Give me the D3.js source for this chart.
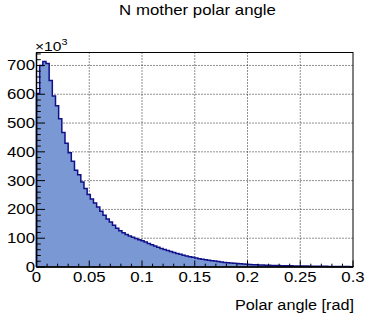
<!DOCTYPE html>
<html>
<head>
<meta charset="utf-8">
<script src="https://cdn.jsdelivr.net/npm/d3@7"></script>
<style>
  html, body { margin: 0; padding: 0; background: #fff; }
  svg { display: block; }
  text { font-family: "Liberation Sans", Arial, Helvetica, sans-serif; fill: #000; }
</style>
</head>
<body>
<svg id="chart" width="365" height="324"></svg>
<script>
// Histogram of the N mother polar angle: 100 bins of 0.003 rad over [0, 0.3],
// counts in units of 10^3 entries.
const binLow = 0, binHigh = 0.3;
const counts = [
  603, 700, 714, 707, 648, 594, 560, 515, 467, 430,
  397, 367, 336, 320, 295, 273, 252, 236, 222, 208,
  194, 180, 167, 156, 145, 135, 126, 119, 113, 108,
  103, 99, 95, 91, 86.5, 82, 77.5, 73, 68.5, 64.5,
  60.5, 57, 53.5, 50, 47, 44, 41, 38.5, 36, 33.5,
  31, 29, 27, 25, 23.5, 22, 20.5, 19, 17.5, 16,
  15, 14, 13, 12, 11, 10.2, 9.4, 8.7, 8.1, 7.6,
  7.1, 6.7, 6.3, 5.9, 5.6, 5.3, 5.0, 4.7, 4.5, 4.3,
  4.1, 3.9, 3.7, 3.5, 3.3, 3.1, 2.9, 2.8, 2.6, 2.5,
  2.4, 2.2, 2.1, 2.0, 1.9, 1.8, 1.6, 1.5, 1.4, 1.3
];
const xTicks = [0, 0.05, 0.1, 0.15, 0.2, 0.25, 0.3];
const xTickLabels = ["0", "0.05", "0.1", "0.15", "0.2", "0.25", "0.3"];
const yTicks = [0, 100, 200, 300, 400, 500, 600, 700];
const yTickLabels = ["0", "100", "200", "300", "400", "500", "600", "700"];
const yMax = 745;

const titleText = "N mother polar angle";
const xTitleText = "Polar angle [rad]";

const frame = { left: 36.5, right: 353, top: 52.5, bottom: 267 };
const stretch = 1.2; // horizontal stretch of glyphs

const svg = d3.select("#chart");
const x = d3.scaleLinear().domain([binLow, binHigh]).range([frame.left, frame.right]);
const y = d3.scaleLinear().domain([0, yMax]).range([frame.bottom, frame.top]);

function label(g, str, px, py, size, anchor) {
  return g.append("text")
    .attr("transform", `translate(${px},${py}) scale(${stretch},1)`)
    .attr("font-size", size)
    .attr("text-anchor", anchor)
    .text(str);
}

// Grid (dotted) at major ticks
const grid = svg.append("g");
xTicks.filter(t => t > binLow && t < binHigh).forEach(t => {
  grid.append("line")
    .attr("x1", x(t)).attr("x2", x(t))
    .attr("y1", frame.top).attr("y2", frame.bottom)
    .attr("stroke", "#222").attr("stroke-width", 1)
    .attr("stroke-dasharray", "1,2");
});
yTicks.filter(t => t > 0).forEach(t => {
  grid.append("line")
    .attr("x1", frame.left).attr("x2", frame.right)
    .attr("y1", y(t)).attr("y2", y(t))
    .attr("stroke", "#222").attr("stroke-width", 1)
    .attr("stroke-dasharray", "1,2");
});

// Step histogram
const nBins = counts.length;
const binW = (binHigh - binLow) / nBins;
const steps = [];
counts.forEach((c, i) => {
  steps.push([binLow + i * binW, c]);
  steps.push([binLow + (i + 1) * binW, c]);
});
const area = d3.area()
  .x(d => x(d[0])).y0(y(0)).y1(d => y(d[1]));
svg.append("path")
  .datum(steps)
  .attr("d", area)
  .attr("fill", "#7a98d3");
const outline = [[binLow, 0], ...steps, [binHigh, 0]];
svg.append("path")
  .datum(outline)
  .attr("d", d3.line().x(d => x(d[0])).y(d => y(d[1])))
  .attr("fill", "none")
  .attr("stroke", "#10108a")
  .attr("stroke-width", 1.5);

// Frame
svg.append("rect")
  .attr("x", frame.left).attr("y", frame.top)
  .attr("width", frame.right - frame.left)
  .attr("height", frame.bottom - frame.top)
  .attr("fill", "none").attr("stroke", "#000").attr("stroke-width", 1);

// X axis ticks (pointing inward)
const xMinor = d3.range(0, 31).map(i => i * 0.01);
const ax = svg.append("g").attr("stroke", "#000").attr("stroke-width", 1);
xMinor.forEach((t, i) => {
  const major = i % 5 === 0;
  ax.append("line")
    .attr("x1", x(t)).attr("x2", x(t))
    .attr("y1", frame.bottom).attr("y2", frame.bottom - (major ? 6.5 : 3.3));
});
// Y axis ticks
const yMinor = d3.range(0, 38).map(i => i * 20).filter(v => v <= yMax);
yMinor.forEach((t, i) => {
  const major = i % 5 === 0;
  ax.append("line")
    .attr("x1", frame.left).attr("x2", frame.left + (major ? 8.5 : 4.3))
    .attr("y1", y(t)).attr("y2", y(t));
});
// Axis lines on top
ax.append("line").attr("x1", frame.left).attr("x2", frame.right)
  .attr("y1", frame.bottom).attr("y2", frame.bottom).attr("stroke-width", 1.5);
ax.append("line").attr("x1", frame.left).attr("x2", frame.left)
  .attr("y1", frame.top).attr("y2", frame.bottom).attr("stroke-width", 1.5);

// Tick labels
const labels = svg.append("g");
xTicks.forEach((t, i) => label(labels, xTickLabels[i], x(t), 282, 14, "middle"));
yTicks.forEach((t, i) => label(labels, yTickLabels[i], frame.left - 1.5, y(t) + 5, 14, "end"));

// Exponent marker
const expo = labels.append("text")
  .attr("transform", `translate(35,50.5) scale(${stretch},1)`)
  .attr("font-size", 13);
expo.append("tspan").text("\u00d710");
expo.append("tspan").attr("font-size", 9).attr("dy", -6).text("3");

// Titles
label(svg, titleText, 197.5, 15, 14, "middle");
svg.append("text")
  .attr("x", 235).attr("y", 310)
  .attr("font-size", 14)
  .attr("textLength", 119)
  .attr("lengthAdjust", "spacingAndGlyphs")
  .text(xTitleText);
</script>
</body>
</html>
